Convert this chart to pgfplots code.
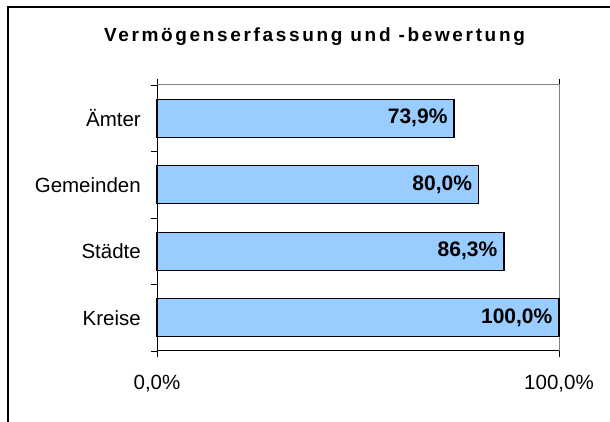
\documentclass[border=0pt]{standalone}
\usepackage{fontspec}
\setmainfont{Liberation Sans}
\newfontfamily\titlefont[LetterSpace=14]{Liberation Sans}
\usepackage{pgfplots}
\pgfplotsset{compat=1.18}
\definecolor{barblue}{HTML}{99CCFF}
\begin{document}
\begin{tikzpicture}[x=1pt,y=1pt]
\path[use as bounding box] (0,0) rectangle (610,422);
\draw[line width=1.3pt] (8,0) -- (8,415) -- (610,415);
\node[font=\titlefont\bfseries\fontsize{19}{23}\selectfont] at (314.5,385) {Vermögenserfassung und -bewertung};
\begin{axis}[at={(157pt,71pt)}, anchor=south west, scale only axis,
  width=402pt, height=266pt,
  xbar, xmin=0, xmax=100, ymin=-0.5, ymax=3.5, bar width=38pt,
  /pgf/number format/assume math mode=true,
  axis line style={draw=gray, line width=1pt},
  ytick={0,1,2,3}, yticklabels={Kreise,Städte,Gemeinden,Ämter},
  ytick style={draw=none},
  yticklabel style={font=\fontsize{20.5}{24}\selectfont, inner sep=0pt, anchor=east, xshift=-10pt},
  xtick={0,100}, xticklabels={{0,0\%},{100,0\%}},
  xtick style={draw=black, line width=0.8pt},
  tick align=outside, major tick length=6pt,
  xticklabel style={font=\fontsize{20.5}{24}\selectfont, inner sep=0pt, anchor=north, yshift=-18pt},
  nodes near coords={\pgfmathprintnumber[fixed,fixed zerofill,precision=1,use comma,assume math mode=true]{\pgfplotspointmeta}\%},
  every node near coord/.append style={anchor=east, font=\bfseries\fontsize{21}{25}\selectfont, inner sep=0pt, xshift=-6pt},
  clip=false,
]
\addplot[draw=black, line width=1.3pt, fill=barblue] coordinates {(100,0) (86.3,1) (80.0,2) (73.9,3)};
\draw[black, line width=1pt] (rel axis cs:0,1) -- (rel axis cs:0,0) -- (rel axis cs:1,0);
\pgfplotsinvokeforeach{-0.5,0.5,1.5,2.5,3.5}{\draw[black, line width=0.8pt] (axis cs:0,#1) -- ++(-6pt,0pt);}
\end{axis}
\end{tikzpicture}
\end{document}
